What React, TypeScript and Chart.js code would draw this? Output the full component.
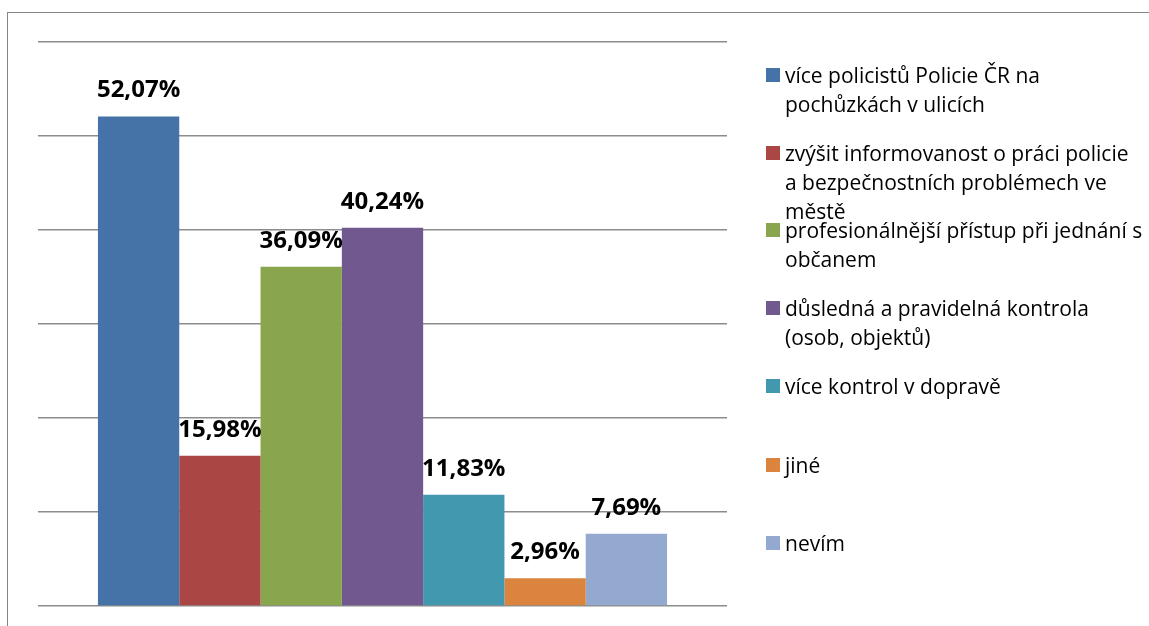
import React, { useEffect, useRef } from "react";
import { Chart, registerables } from "chart.js";

Chart.register(...registerables);

const categories = [""];
const seriesNames = [
  "více policistů Policie ČR na pochůzkách v ulicích",
  "zvýšit informovanost o práci policie a bezpečnostních problémech ve městě",
  "profesionálnější přístup při jednání s občanem",
  "důsledná a pravidelná kontrola (osob, objektů)",
  "více kontrol v dopravě",
  "jiné",
  "nevím",
];
const legendLines = [
  ["více policistů Policie ČR na", "pochůzkách v ulicích"],
  ["zvýšit informovanost o práci policie", "a bezpečnostních problémech ve", "městě"],
  ["profesionálnější přístup při jednání s", "občanem"],
  ["důsledná a pravidelná kontrola", "(osob, objektů)"],
  ["více kontrol v dopravě"],
  ["jiné"],
  ["nevím"],
];
const seriesValues = [52.07, 15.98, 36.09, 40.24, 11.83, 2.96, 7.69];
const seriesColors = ["#4572A7", "#AA4643", "#89A54E", "#71588F", "#4198AF", "#DB843D", "#93A9CF"];
const yTicks = [0, 10, 20, 30, 40, 50, 60];

const W = 1149;
const H = 626;

const labelPlugin = {
  id: "barLabels",
  afterDatasetsDraw(chart: any) {
    const ctx = chart.ctx;
    ctx.save();
    ctx.font = "bold 24px 'Open Sans'";
    ctx.fillStyle = "#000";
    ctx.textAlign = "center";
    ctx.textBaseline = "middle";
    chart.data.datasets.forEach((ds: any, i: number) => {
      const meta = chart.getDatasetMeta(i);
      const el = meta.data[0];
      if (!el) return;
      const txt = ds.data[0].toFixed(2).replace(".", ",") + "%";
      ctx.fillText(txt, el.x, el.y - 26);
    });
    ctx.restore();
  },
};

export default function App() {
  const ref = useRef<HTMLCanvasElement | null>(null);
  useEffect(() => {
    if (!ref.current) return;
    const chart = new Chart(ref.current, {
      type: "bar",
      data: {
        labels: categories,
        datasets: seriesNames.map((n, i) => ({
          label: n,
          data: [seriesValues[i]],
          backgroundColor: seriesColors[i],
          borderWidth: 0,
        })),
      },
      options: {
        animation: false,
        responsive: false,
        devicePixelRatio: 1,
        layout: { padding: { left: 38, top: 42, right: W - 727, bottom: H - 606 } },
        plugins: { legend: { display: false }, tooltip: { enabled: false } },
        datasets: { bar: { barPercentage: 1, categoryPercentage: 0.826 } },
        scales: {
          x: { display: false },
          y: {
            min: yTicks[0],
            max: yTicks[yTicks.length - 1],
            afterBuildTicks: (s: any) => {
              s.ticks = yTicks.map((v) => ({ value: v }));
            },
            ticks: { display: false },
            border: { display: false },
            grid: { color: "#8c8c8c", lineWidth: 1.6, drawTicks: false },
          },
        },
      },
      plugins: [labelPlugin],
    } as any);
    return () => chart.destroy();
  }, []);

  const centers = [75, 153, 230, 308, 386, 465, 543];
  return (
    <div style={{ position: "fixed", left: 0, top: 0, width: W, height: H, background: "#fff", overflow: "hidden" }}>
      <div
        style={{
          position: "absolute",
          left: 7,
          top: 12,
          width: W + 20,
          height: H + 20,
          border: "1.5px solid #868686",
          boxSizing: "border-box",
        }}
      />
      <canvas ref={ref} width={W} height={H} style={{ position: "absolute", left: 0, top: 0, width: W, height: H }} />
      {legendLines.map((lines, i) => (
        <div key={i}>
          <div
            style={{
              position: "absolute",
              left: 766,
              top: centers[i] - 7,
              width: 14,
              height: 14,
              background: seriesColors[i],
            }}
          />
          {lines.map((ln, j) => (
            <div
              key={j}
              style={{
                position: "absolute",
                left: 785,
                top: centers[i] - 15 + j * 29,
                height: 30,
                lineHeight: "30px",
                fontFamily: "'Open Sans'",
                fontSize: 21,
                color: "#000",
                whiteSpace: "nowrap",
              }}
            >
              {ln}
            </div>
          ))}
        </div>
      ))}
    </div>
  );
}
